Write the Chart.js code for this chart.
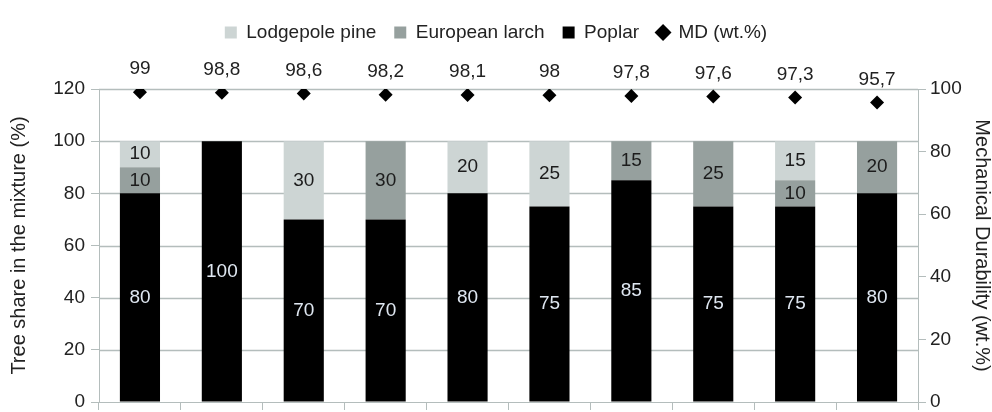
<!DOCTYPE html>
<html>
<head>
<meta charset="utf-8">
<script src="https://cdn.jsdelivr.net/npm/chart.js@4/dist/chart.umd.min.js"></script>
<style>
html,body{margin:0;padding:0;background:#fff;}
#wrap{width:992px;height:412px;position:relative;}
</style>
</head>
<body>
<div id="wrap"><canvas id="c" width="992" height="412"></canvas></div>
<script>
const categories = ['1','2','3','4','5','6','7','8','9','10'];
const poplar = [80, 100, 70, 70, 80, 75, 85, 75, 75, 80];
const larch  = [10, 0, 0, 30, 0, 0, 15, 25, 10, 20];
const pine   = [10, 0, 30, 0, 20, 25, 0, 0, 15, 0];
const md     = [99, 98.8, 98.6, 98.2, 98.1, 98, 97.8, 97.6, 97.3, 95.7];
const leftTicks = [0, 20, 40, 60, 80, 100, 120];
const rightTicks = [0, 20, 40, 60, 80, 100];

const FONT = "'Liberation Sans', Arial, sans-serif";
const GRID = '#b4bdbc';
Chart.defaults.font.family = FONT;
Chart.defaults.font.size = 19;
Chart.defaults.color = '#222';

const legendPad = {
  id: 'legendPad',
  beforeInit(chart) {
    const lg = chart.legend;
    if (!lg) return;
    const fit = lg.fit;
    lg.fit = function () { fit.call(this); this.height += 37; };
  }
};

// horizontal gridlines drawn from the library's y scale, behind the bars
const gridPlugin = {
  id: 'gridPlugin',
  beforeDatasetsDraw(chart) {
    const {ctx, chartArea: a, scales} = chart;
    ctx.save();
    ctx.strokeStyle = GRID;
    ctx.lineWidth = 1.5;
    ctx.beginPath();
    leftTicks.forEach(v => {
      if (v === leftTicks[0]) return;
      const y = Math.round(scales.y.getPixelForValue(v)) + 0.5;
      ctx.moveTo(a.left, y); ctx.lineTo(a.right, y);
    });
    ctx.stroke();
    ctx.restore();
  }
};

const labelsPlugin = {
  id: 'labelsPlugin',
  afterDatasetsDraw(chart) {
    const ctx = chart.ctx;
    ctx.save();
    ctx.font = '19px ' + FONT;
    ctx.textAlign = 'center';
    ctx.textBaseline = 'middle';
    chart.data.datasets.forEach((ds, i) => {
      const meta = chart.getDatasetMeta(i);
      if (meta.hidden) return;
      meta.data.forEach((el, j) => {
        const v = ds.data[j];
        if (ds.type === 'line') {
          ctx.fillStyle = '#222';
          ctx.fillText(String(v).replace('.', ','), el.x, el.y - 23);
        } else if (v > 0) {
          ctx.fillStyle = ds.label === 'Poplar' ? '#dfe7f1' : '#1c1c1c';
          ctx.fillText(String(v), el.x, (el.y + el.base) / 2);
        }
      });
    });
    ctx.restore();
  }
};

const order = {'Lodgepole pine': 0, 'European larch': 1, 'Poplar': 2, 'MD (wt.%)': 3};
const noPad = s => { s.paddingTop = 0; s.paddingBottom = 0; };

new Chart(document.getElementById('c'), {
  data: {
    labels: categories,
    datasets: [
      {type: 'bar', label: 'Poplar', data: poplar, backgroundColor: '#000000', stack: 's', yAxisID: 'y', pointStyle: 'rect'},
      {type: 'bar', label: 'European larch', data: larch, backgroundColor: '#96a09e', stack: 's', yAxisID: 'y', pointStyle: 'rect'},
      {type: 'bar', label: 'Lodgepole pine', data: pine, backgroundColor: '#cdd5d4', stack: 's', yAxisID: 'y', pointStyle: 'rect'},
      {type: 'line', label: 'MD (wt.%)', data: md, yAxisID: 'y1', showLine: false, pointStyle: 'rectRot',
       pointRadius: 7, pointHoverRadius: 7, backgroundColor: '#000', borderColor: '#000', pointBorderWidth: 0}
    ]
  },
  options: {
    responsive: false,
    animation: false,
    events: [],
    layout: {padding: {top: 5, left: 0, right: 0, bottom: 0}},
    datasets: {bar: {categoryPercentage: 1, barPercentage: 0.49}},
    plugins: {
      tooltip: {enabled: false},
      legend: {
        position: 'top',
        labels: {
          usePointStyle: true,
          boxWidth: 12, boxHeight: 12,
          padding: 18,
          color: '#222',
          font: {size: 19},
          sort: (a, b) => order[a.text] - order[b.text]
        }
      }
    },
    scales: {
      x: {
        stacked: true,
        offset: true,
        grid: {display: true, drawOnChartArea: false, drawTicks: true, tickLength: 8, color: GRID, offset: true},
        border: {display: true, color: GRID},
        ticks: {display: false},
        afterFit: s => { s.height = 10; s.paddingLeft = 0; s.paddingRight = 0; }
      },
      y: {
        stacked: true,
        position: 'left',
        min: leftTicks[0], max: leftTicks[leftTicks.length - 1],
        ticks: {stepSize: leftTicks[1] - leftTicks[0], padding: 6, color: '#222', font: {size: 19}},
        grid: {display: true, drawOnChartArea: false, color: GRID, lineWidth: 1, tickLength: 8, drawTicks: true},
        border: {display: true, color: GRID},
        title: {display: true, text: 'Tree share in the mixture (%)', font: {size: 20, lineHeight: 1}, padding: {top: 9, bottom: 0}, color: '#222'},
        afterFit: s => { s.width = 99; noPad(s); }
      },
      y1: {
        position: 'right',
        min: rightTicks[0], max: rightTicks[rightTicks.length - 1],
        ticks: {stepSize: rightTicks[1] - rightTicks[0], padding: 4, color: '#222', font: {size: 19}},
        grid: {drawOnChartArea: false, color: GRID, tickLength: 8},
        border: {display: true, color: GRID},
        title: {display: true, text: 'Mechanical Durability (wt.%)', font: {size: 20, lineHeight: 1}, padding: {top: 0, bottom: 0}, color: '#222'},
        afterFit: s => { s.width = 74; noPad(s); }
      }
    }
  },
  plugins: [legendPad, gridPlugin, labelsPlugin]
});
</script>
</body>
</html>
